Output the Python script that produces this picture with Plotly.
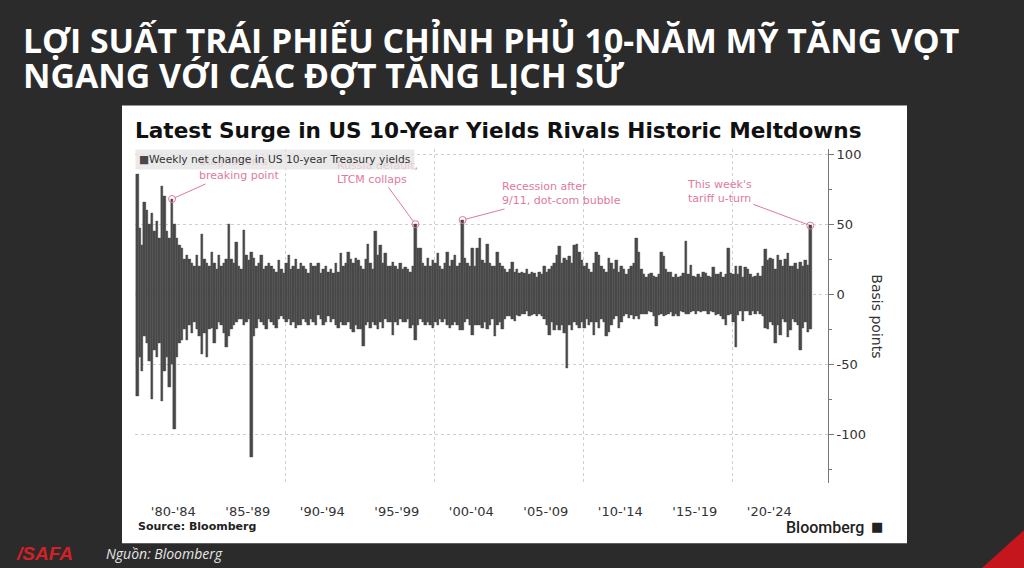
import plotly.graph_objects as go

# số liệu: mỗi năm 6 kỳ (T1-2, T3-4, ..., T11-12)
# hi = mức tăng lớn nhất trong kỳ, lo = mức giảm lớn nhất trong kỳ (điểm cơ bản)
years = list(range(1980, 2026))
hi = [
    86, 47, 35, 66, 60, 50,   # 1980
    58, 45, 52, 40, 77, 70,   # 1981
    45, 40, 68, 50, 40, 35,   # 1982
    33, 25, 28, 25, 22, 20,   # 1983
    28, 20, 43, 25, 22, 20,   # 1984
    30, 22, 18, 28, 20, 22,   # 1985
    25, 50, 25, 22, 37, 20,   # 1986
    18, 46, 28, 24, 30, 26,   # 1987
    20, 22, 28, 18, 20, 22,   # 1988
    20, 18, 16, 24, 18, 15,   # 1989
    22, 28, 18, 20, 25, 18,   # 1990
    22, 20, 18, 15, 22, 20,   # 1991
    20, 22, 15, 18, 20, 16,   # 1992
    18, 15, 22, 16, 29, 20,   # 1993
    22, 30, 25, 22, 26, 24,   # 1994
    20, 18, 25, 36, 22, 18,   # 1995
    45, 28, 35, 22, 29, 20,   # 1996
    20, 23, 20, 18, 22, 18,   # 1997
    19, 18, 16, 20, 50, 33,   # 1998
    33, 22, 20, 26, 20, 24,   # 1999
    22, 29, 20, 18, 22, 30,   # 2000
    20, 24, 28, 20, 22, 53,   # 2001
    26, 22, 20, 33, 20, 33,   # 2002
    40, 24, 22, 36, 22, 20,   # 2003
    20, 30, 22, 20, 18, 16,   # 2004
    18, 23, 16, 18, 15, 16,   # 2005
    15, 18, 14, 16, 15, 12,   # 2006
    16, 14, 20, 16, 18, 20,   # 2007
    22, 28, 34, 22, 26, 24,   # 2008
    27, 22, 35, 36, 30, 24,   # 2009
    20, 22, 18, 16, 22, 30,   # 2010
    28, 20, 18, 16, 26, 22,   # 2011
    18, 24, 16, 20, 18, 14,   # 2012
    18, 20, 22, 40, 30, 18,   # 2013
    14, 12, 14, 15, 13, 12,   # 2014
    14, 30, 27, 18, 16, 16,   # 2015
    12, 14, 12, 13, 15, 38,   # 2016
    14, 21, 13, 12, 14, 12,   # 2017
    16, 15, 13, 12, 19, 14,   # 2018
    14, 16, 12, 14, 33, 15,   # 2019
    14, 20, 14, 20, 12, 19,   # 2020
    18, 14, 12, 13, 15, 13,   # 2021
    20, 32, 24, 26, 25, 18,   # 2022
    28, 24, 20, 25, 29, 20,   # 2023
    20, 22, 18, 23, 20, 24,   # 2024
    21, 49,                   # 2025
]
lo = [
    -73, -45, -55, -30, -35, -48,   # 1980
    -75, -40, -45, -35, -76, -55,   # 1981
    -45, -66, -50, -96, -45, -35,   # 1982
    -33, -25, -33, -22, -28, -20,   # 1983
    -25, -30, -43, -28, -45, -25,   # 1984
    -24, -35, -25, -20, -22, -28,   # 1985
    -38, -30, -25, -22, -20, -18,   # 1986
    -18, -22, -20, -18, -116, -30,  # 1987
    -24, -18, -20, -22, -25, -18,   # 1988
    -20, -22, -24, -18, -16, -18,   # 1989
    -20, -18, -22, -20, -24, -22,   # 1990
    -22, -18, -20, -22, -18, -20,   # 1991
    -22, -15, -18, -22, -20, -16,   # 1992
    -20, -18, -22, -24, -20, -22,   # 1993
    -22, -20, -25, -27, -22, -25,   # 1994
    -25, -37, -22, -20, -24, -20,   # 1995
    -22, -25, -20, -24, -18, -20,   # 1996
    -20, -29, -20, -22, -18, -20,   # 1997
    -20, -18, -24, -22, -33, -22,   # 1998
    -18, -20, -22, -20, -22, -24,   # 1999
    -20, -22, -18, -20, -18, -22,   # 2000
    -24, -22, -20, -22, -26, -26,   # 2001
    -20, -18, -22, -29, -22, -22,   # 2002
    -22, -24, -20, -25, -22, -18,   # 2003
    -30, -22, -20, -25, -18, -16,   # 2004
    -16, -18, -19, -15, -16, -14,   # 2005
    -14, -12, -16, -15, -14, -16,   # 2006
    -14, -16, -18, -22, -29, -20,   # 2007
    -26, -22, -26, -22, -28, -53,   # 2008
    -22, -26, -20, -22, -24, -20,   # 2009
    -24, -18, -22, -20, -29, -20,   # 2010
    -24, -18, -20, -30, -27, -22,   # 2011
    -18, -16, -24, -20, -16, -14,   # 2012
    -17, -15, -18, -16, -18, -14,   # 2013
    -14, -14, -12, -13, -16, -23,   # 2014
    -15, -14, -16, -15, -14, -13,   # 2015
    -16, -14, -16, -12, -13, -14,   # 2016
    -14, -13, -12, -14, -12, -13,   # 2017
    -12, -12, -14, -12, -13, -15,   # 2018
    -14, -16, -18, -22, -15, -14,   # 2019
    -20, -38, -15, -12, -19, -12,   # 2020
    -12, -15, -12, -14, -12, -14,   # 2021
    -16, -24, -25, -20, -22, -35,   # 2022
    -22, -29, -18, -20, -31, -26,   # 2023
    -18, -20, -22, -40, -24, -20,   # 2024
    -27, -25,                       # 2025
]

x_labels = ["'80-'84", "'85-'89", "'90-'94", "'95-'99", "'00-'04",
            "'05-'09", "'10-'14", "'15-'19", "'20-'24"]
label_pos = [1982.5, 1987.5, 1992.5, 1997.5, 2002.5, 2007.5, 2012.5, 2017.5, 2022.5]
decades = [1990, 2000, 2010, 2020]

# chú thích: (chữ, năm, kỳ trong năm)
notes = [
    ("Stagflation's<br>breaking point", 1982, 2),
    ("Russia default,<br>LTCM collaps", 1998, 4),
    ("Recession after<br>9/11, dot-com bubble", 2001, 5),
    ("This week's<br>tariff u-turn", 2025, 1),
]
note_offsets = [(67, -30), (-38, -52), (99, -26), (-91, -34)]
series_name = 'Weekly net change in US 10-year Treasury yields'

per_year = 6
x = [years[0] + (i + 0.5) / per_year for i in range(len(hi))]

W, H = 1024, 568
def px(v):
    return v / W
def py(v):
    return 1 - v / H

pink = '#e0799e'
grid = '#cfcfcf'
bar_color = '#484848'
chart_font = 'DejaVu Sans'

fig = go.Figure()
fig.add_trace(go.Bar(
    x=x, y=[h - l for h, l in zip(hi, lo)], base=lo,
    width=1 / per_year, marker_color=bar_color,
    marker_line=dict(width=0.4, color=bar_color),
    name=series_name, showlegend=False,
))

idx = [(yr - years[0]) * per_year + k for _, yr, k in notes]
fig.add_trace(go.Scatter(
    x=[x[i] for i in idx], y=[hi[i] for i in idx], mode='markers',
    marker=dict(symbol='circle-open', size=7, color=pink, line_width=1),
    showlegend=False, hoverinfo='skip',
))

annotations = []
for (txt, yr, k), i, (ax, ay) in zip(notes, idx, note_offsets):
    annotations.append(dict(
        x=x[i], y=hi[i], xref='x', yref='y', text=txt, align='left',
        showarrow=True, arrowhead=0, arrowwidth=1, arrowcolor=pink,
        standoff=3, ax=ax, ay=ay,
        font=dict(family=chart_font, size=11, color=pink),
    ))

annotations += [
    # chú giải (vẽ sau để che một phần chữ chú thích như bản gốc)
    dict(x=px(135), y=py(147), xref='paper', yref='paper', xanchor='left', yanchor='top',
         text='<span style="color:%s">■</span>%s' % (bar_color, series_name), showarrow=False,
         bgcolor='rgba(228,228,228,0.78)', borderpad=3,
         font=dict(family=chart_font, size=10.7, color='#333')),
    # tiêu đề trang
    dict(x=px(21), y=py(37), xref='paper', yref='paper', xanchor='left', yanchor='middle',
         text='LỢI SUẤT TRÁI PHIẾU CHỈNH PHỦ 10-NĂM MỸ TĂNG VỌT', showarrow=False,
         font=dict(family='Open Sans', size=33.8, color='white', weight='bold')),
    dict(x=px(21), y=py(72), xref='paper', yref='paper', xanchor='left', yanchor='middle',
         text='NGANG VỚI CÁC ĐỢT TĂNG LỊCH SỬ', showarrow=False,
         font=dict(family='Open Sans', size=33.8, color='white', weight='bold')),
    # tiêu đề biểu đồ
    dict(x=px(133), y=py(128), xref='paper', yref='paper', xanchor='left', yanchor='middle',
         text='<b>Latest Surge in US 10-Year Yields Rivals Historic Meltdowns</b>', showarrow=False,
         font=dict(family=chart_font, size=21.6, color='#111')),
    dict(x=px(877), y=py(315), xref='paper', yref='paper', xanchor='center', yanchor='middle',
         text='Basis points', textangle=90, showarrow=False,
         font=dict(family=chart_font, size=14, color='#333')),
    dict(x=px(136), y=py(526), xref='paper', yref='paper', xanchor='left', yanchor='middle',
         text='<b>Source: Bloomberg</b>', showarrow=False,
         font=dict(family=chart_font, size=11, color='#222')),
    dict(x=px(866), y=py(527), xref='paper', yref='paper', xanchor='right', yanchor='middle',
         text='Bloomberg', showarrow=False,
         font=dict(family='Roboto', size=16, color='#222', weight=500)),
    dict(x=px(877), y=py(526), xref='paper', yref='paper', xanchor='center', yanchor='middle',
         text='■', showarrow=False, font=dict(family=chart_font, size=13, color='#222')),
    # logo + nguồn
    dict(x=px(14), y=py(553), xref='paper', yref='paper', xanchor='left', yanchor='middle',
         text='<b><i>/SAFA</i></b>', showarrow=False,
         font=dict(family='Liberation Sans', size=19, color='#d42027')),
    dict(x=px(104), y=py(553), xref='paper', yref='paper', xanchor='left', yanchor='middle',
         text='<i>Nguồn: Bloomberg</i>', showarrow=False,
         font=dict(family='Open Sans', size=14, color='#e6e6e6')),
]

fig.update_layout(
    width=W, height=H, margin=dict(l=0, r=0, t=0, b=0),
    paper_bgcolor='#2b2b2b', plot_bgcolor='white',
    bargap=0, showlegend=False,
    xaxis=dict(domain=[px(135), px(828)], range=[1979.93, 2026.44],
               tickmode='array', tickvals=label_pos, ticktext=x_labels,
               ticks='outside', ticklen=16, tickcolor='rgba(0,0,0,0)',
               showgrid=False, showline=False, zeroline=False,
               tickfont=dict(family=chart_font, size=13, color='#333'),
               minor=dict(tickmode='array', tickvals=decades, showgrid=True,
                          gridcolor=grid, griddash='dot', ticks='')),
    yaxis=dict(domain=[py(483), py(147)], range=[-135, 103.5], side='right',
               tickmode='array', tickvals=[-100, -50, 0, 50, 100],
               ticktext=['-100', '-50', '0', '50', '100'],
               ticks='outside', ticklen=5, tickcolor='#777',
               showline=True, linecolor='#777', linewidth=1,
               showgrid=True, gridcolor=grid, griddash='dot', zeroline=False,
               tickfont=dict(family=chart_font, size=13, color='#333'),
               minor=dict(dtick=25, ticks='outside', ticklen=3, tickcolor='#777', showgrid=False)),
    annotations=annotations,
    shapes=[
        dict(type='rect', xref='paper', yref='paper', x0=px(122), x1=px(907),
             y0=py(543), y1=py(103), fillcolor='white', line_width=0, layer='below'),
        dict(type='path', xref='paper', yref='paper',
             path=f'M {px(982)},0 L 1,{py(530)} L 1,0 Z',
             fillcolor='#c4161c', line_width=0, layer='above'),
    ],
)

fig.write_html("out.html", config={'displayModeBar': False},
               post_script="document.body.style.margin='0px';")
